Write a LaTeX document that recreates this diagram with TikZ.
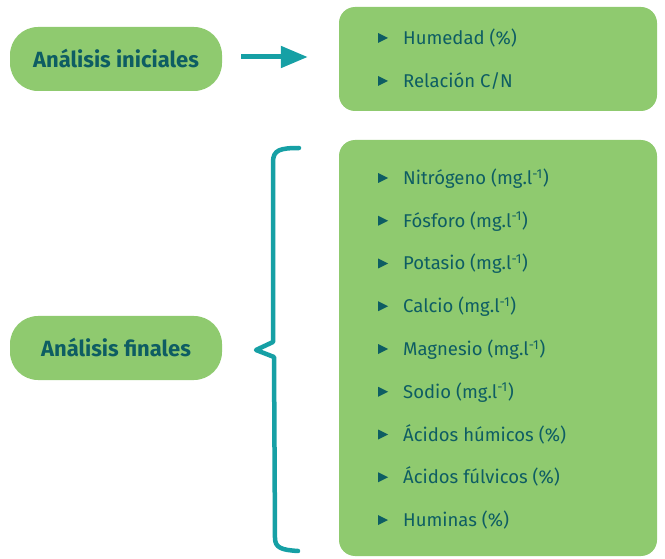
\documentclass[tikz,border=0pt]{standalone}
\usepackage{fontspec}
\setmainfont{Fira Sans}
\definecolor{verde}{RGB}{143,202,111}
\definecolor{tinta}{RGB}{14,93,99}
\definecolor{turquesa}{RGB}{22,160,165}
\usetikzlibrary{arrows.meta}
\begin{document}
\begin{tikzpicture}[x=1pt, y=-1pt,
	titulo/.style={fill=verde, rounded corners=28pt, minimum width=212pt, minimum height=64pt,
		text=tinta, font=\fontsize{22}{26}\selectfont\bfseries},
	caja/.style={fill=verde, rounded corners=16pt, minimum width=318pt},
	item/.style={anchor=base west, inner sep=0pt, text=tinta, font=\fontsize{18.5}{22}\selectfont},
	vineta/.style={fill=tinta},
	flecha/.style={draw=turquesa, line width=5pt, -{Triangle[length=27pt, width=21pt]}},
	llave/.style={draw=turquesa, line width=4.5pt, line cap=round, line join=round}]
\useasboundingbox (0,0) rectangle (665,559);

%boxes
\node[titulo] (ini) at (116,59) {Análisis iniciales};
\node[titulo] (fin) at (116,348) {Análisis finales};
\node[caja, minimum height=104pt] (cajaini) at (498,59) {};
\node[caja, minimum height=416pt] (cajafin) at (498,348) {};

\draw[flecha] ([xshift=19pt,yshift=2pt]ini.east) -- ([xshift=-31pt,yshift=2pt]cajaini.west);

%lists
\foreach \txt [count=\i] in {Humedad (\%), Relación C/N} {
	\fill[vineta] (378,{38+43*(\i-1)-5}) -- ++(0,10) -- ++(10,-5) -- cycle;
	\node[item] (ini-\i) at (403,{38+43*(\i-1)+6.5}) {\txt};
}
\foreach \txt [count=\i] in {Nitrógeno (mg.l\textsuperscript{-1}), Fósforo (mg.l\textsuperscript{-1}),
	Potasio (mg.l\textsuperscript{-1}), Calcio (mg.l\textsuperscript{-1}),
	Magnesio (mg.l\textsuperscript{-1}), Sodio (mg.l\textsuperscript{-1}),
	Ácidos húmicos (\%), Ácidos fúlvicos (\%), Huminas (\%)} {
	\fill[vineta] (378,{178+42.75*(\i-1)-5}) -- ++(0,10) -- ++(10,-5) -- cycle;
	\node[item] (fin-\i) at (403,{178+42.75*(\i-1)+6.5}) {\txt};
}

%brace
\coordinate (llave-a) at (299,148);
\coordinate (llave-pico) at (256,350);
\coordinate (llave-b) at (298,551);
\draw[llave] (llave-a) .. controls (280,148) and (273,150) .. (273,162)
	-- (273,342) -- (llave-pico) -- (274,357)
	-- (275,538) .. controls (275,548) and (282,550) .. (llave-b);
\end{tikzpicture}
\end{document}
